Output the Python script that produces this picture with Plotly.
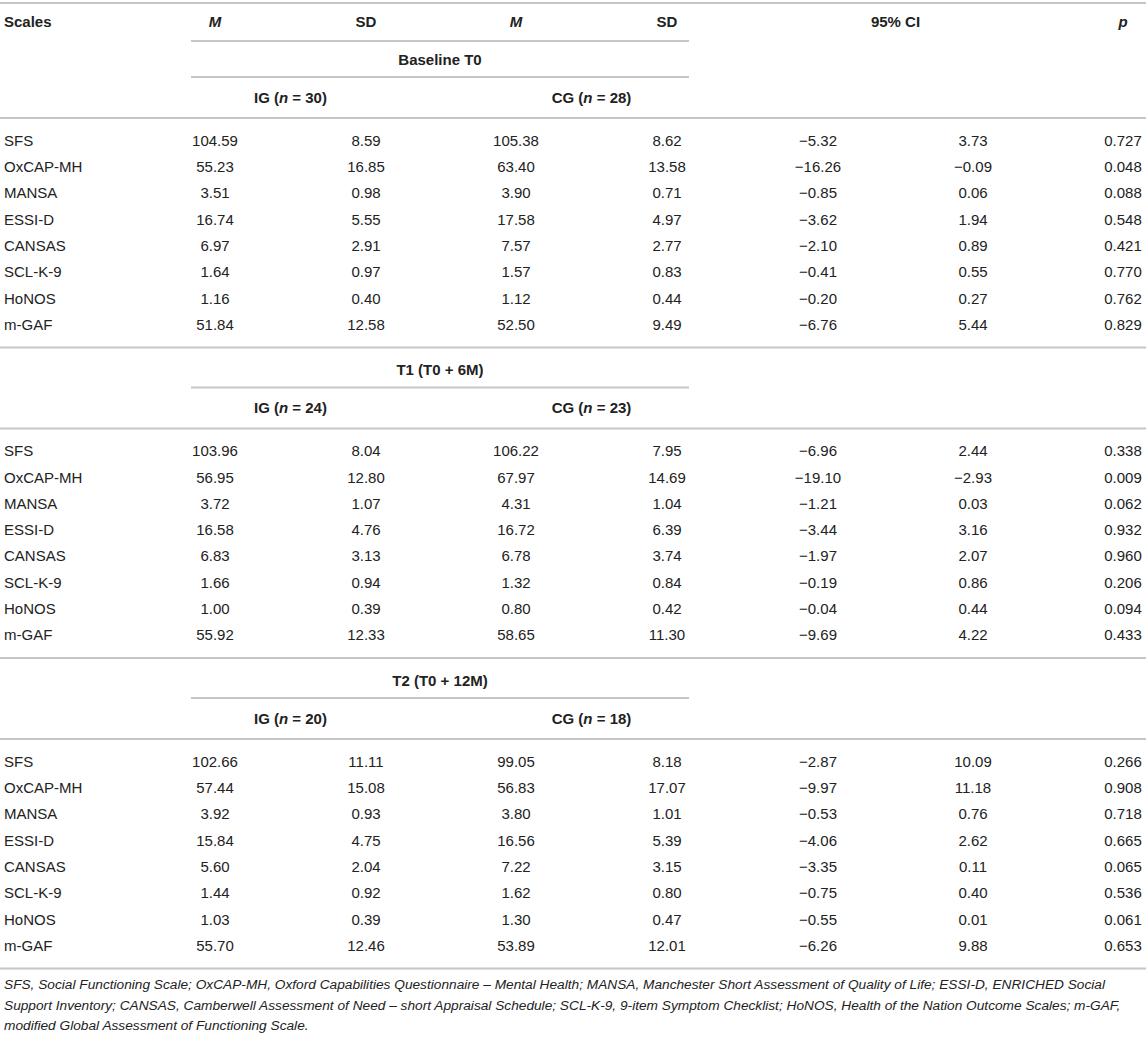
import plotly.graph_objects as go

# table content
scales = ["SFS", "OxCAP-MH", "MANSA", "ESSI-D", "CANSAS", "SCL-K-9", "HoNOS", "m-GAF"]
periods = ["Baseline T0", "T1 (T0 + 6M)", "T2 (T0 + 12M)"]
n_ig = [30, 24, 20]
n_cg = [28, 23, 18]

ig_m = [[104.59, 55.23, 3.51, 16.74, 6.97, 1.64, 1.16, 51.84],
        [103.96, 56.95, 3.72, 16.58, 6.83, 1.66, 1.00, 55.92],
        [102.66, 57.44, 3.92, 15.84, 5.60, 1.44, 1.03, 55.70]]
ig_sd = [[8.59, 16.85, 0.98, 5.55, 2.91, 0.97, 0.40, 12.58],
         [8.04, 12.80, 1.07, 4.76, 3.13, 0.94, 0.39, 12.33],
         [11.11, 15.08, 0.93, 4.75, 2.04, 0.92, 0.39, 12.46]]
cg_m = [[105.38, 63.40, 3.90, 17.58, 7.57, 1.57, 1.12, 52.50],
        [106.22, 67.97, 4.31, 16.72, 6.78, 1.32, 0.80, 58.65],
        [99.05, 56.83, 3.80, 16.56, 7.22, 1.62, 1.30, 53.89]]
cg_sd = [[8.62, 13.58, 0.71, 4.97, 2.77, 0.83, 0.44, 9.49],
         [7.95, 14.69, 1.04, 6.39, 3.74, 0.84, 0.42, 11.30],
         [8.18, 17.07, 1.01, 5.39, 3.15, 0.80, 0.47, 12.01]]
ci_lo = [[-5.32, -16.26, -0.85, -3.62, -2.10, -0.41, -0.20, -6.76],
         [-6.96, -19.10, -1.21, -3.44, -1.97, -0.19, -0.04, -9.69],
         [-2.87, -9.97, -0.53, -4.06, -3.35, -0.75, -0.55, -6.26]]
ci_hi = [[3.73, -0.09, 0.06, 1.94, 0.89, 0.55, 0.27, 5.44],
         [2.44, -2.93, 0.03, 3.16, 2.07, 0.86, 0.44, 4.22],
         [10.09, 11.18, 0.76, 2.62, 0.11, 0.40, 0.01, 9.88]]
p_val = [[0.727, 0.048, 0.088, 0.548, 0.421, 0.770, 0.762, 0.829],
         [0.338, 0.009, 0.062, 0.932, 0.960, 0.206, 0.094, 0.433],
         [0.266, 0.908, 0.718, 0.665, 0.065, 0.536, 0.061, 0.653]]

col_headers = ["<i>M</i>", "SD", "<i>M</i>", "SD"]
footnote = [
    "SFS, Social Functioning Scale; OxCAP-MH, Oxford Capabilities Questionnaire \u2013 Mental Health; MANSA, Manchester Short Assessment of Quality of Life; ESSI-D, ENRICHED Social",
    "Support Inventory; CANSAS, Camberwell Assessment of Need \u2013 short Appraisal Schedule; SCL-K-9, 9-item Symptom Checklist; HoNOS, Health of the Nation Outcome Scales; m-GAF,",
    "modified Global Assessment of Functioning Scale.",
]

# layout (pixels)
W, H = 1146, 1037
FONT = "Liberation Sans, Arial, sans-serif"
TXT = "#222222"
RULE = "#c6c6c6"
col_x = [215, 366, 516, 667, 818, 973, 1123]
name_x = 4
row_h = 26.3
sec_h = 310.5
sec0 = 37


def fmt(v, d=2):
    s = "{:.{}f}".format(abs(v), d)
    return ("\u2212" + s) if v < 0 else s


fig = go.Figure()
shapes = []


def hline(y, x0=0, x1=W):
    shapes.append(dict(type="line", xref="x", yref="y", x0=x0, x1=x1, y0=y, y1=y,
                       line=dict(color=RULE, width=2)))


def add_text(xs, ys, texts, pos="middle center", bold=False, italic=False, size=15):
    if bold:
        texts = ["<b>" + t + "</b>" for t in texts]
    if italic:
        texts = ["<i>" + t + "</i>" for t in texts]
    fig.add_trace(go.Scatter(x=xs, y=ys, text=texts, mode="text", textposition=pos,
                             textfont=dict(family=FONT, size=size, color=TXT),
                             hoverinfo="skip", showlegend=False, cliponaxis=False))


# column header row
hline(3)
add_text([name_x], [23], ["Scales"], pos="middle right", bold=True)
add_text(col_x[:4], [23] * 4, col_headers, bold=True)
add_text([(col_x[4] + col_x[5]) / 2, col_x[6]], [23, 23], ["95% CI", "<i>p</i>"], bold=True)
hline(41, 191, 689)

for k in range(3):
    top = sec0 + k * sec_h
    if k > 0:
        hline(top)
    add_text([440], [top + 24], [periods[k]], bold=True)
    hline(top + 40, 191, 689)
    add_text([(col_x[0] + col_x[1]) / 2, (col_x[2] + col_x[3]) / 2], [top + 62] * 2,
             ["IG (<i>n</i> = %d)" % n_ig[k], "CG (<i>n</i> = %d)" % n_cg[k]], bold=True)
    hline(top + 81)
    ys = [top + 105 + i * row_h for i in range(len(scales))]
    add_text([name_x] * len(scales), ys, scales, pos="middle right")
    cols = [ig_m[k], ig_sd[k], cg_m[k], cg_sd[k], ci_lo[k], ci_hi[k]]
    for c, vals in enumerate(cols):
        add_text([col_x[c]] * len(vals), ys, [fmt(v) for v in vals])
    add_text([col_x[6]] * len(scales), ys, [fmt(v, 3) for v in p_val[k]])

hline(sec0 + 3 * sec_h)
fy = [986 + i * 20.5 for i in range(len(footnote))]
add_text([name_x] * len(footnote), fy, footnote, pos="middle right", italic=True, size=13.7)

fig.update_layout(
    width=W, height=H,
    margin=dict(l=0, r=0, t=0, b=0),
    paper_bgcolor="white", plot_bgcolor="white",
    xaxis=dict(range=[0, W], visible=False, fixedrange=True),
    yaxis=dict(range=[H, 0], visible=False, fixedrange=True),
    shapes=shapes,
)
fig.write_html("out.html", config={"displayModeBar": False},
               post_script="document.body.style.margin='0';document.body.style.overflow='hidden';")
